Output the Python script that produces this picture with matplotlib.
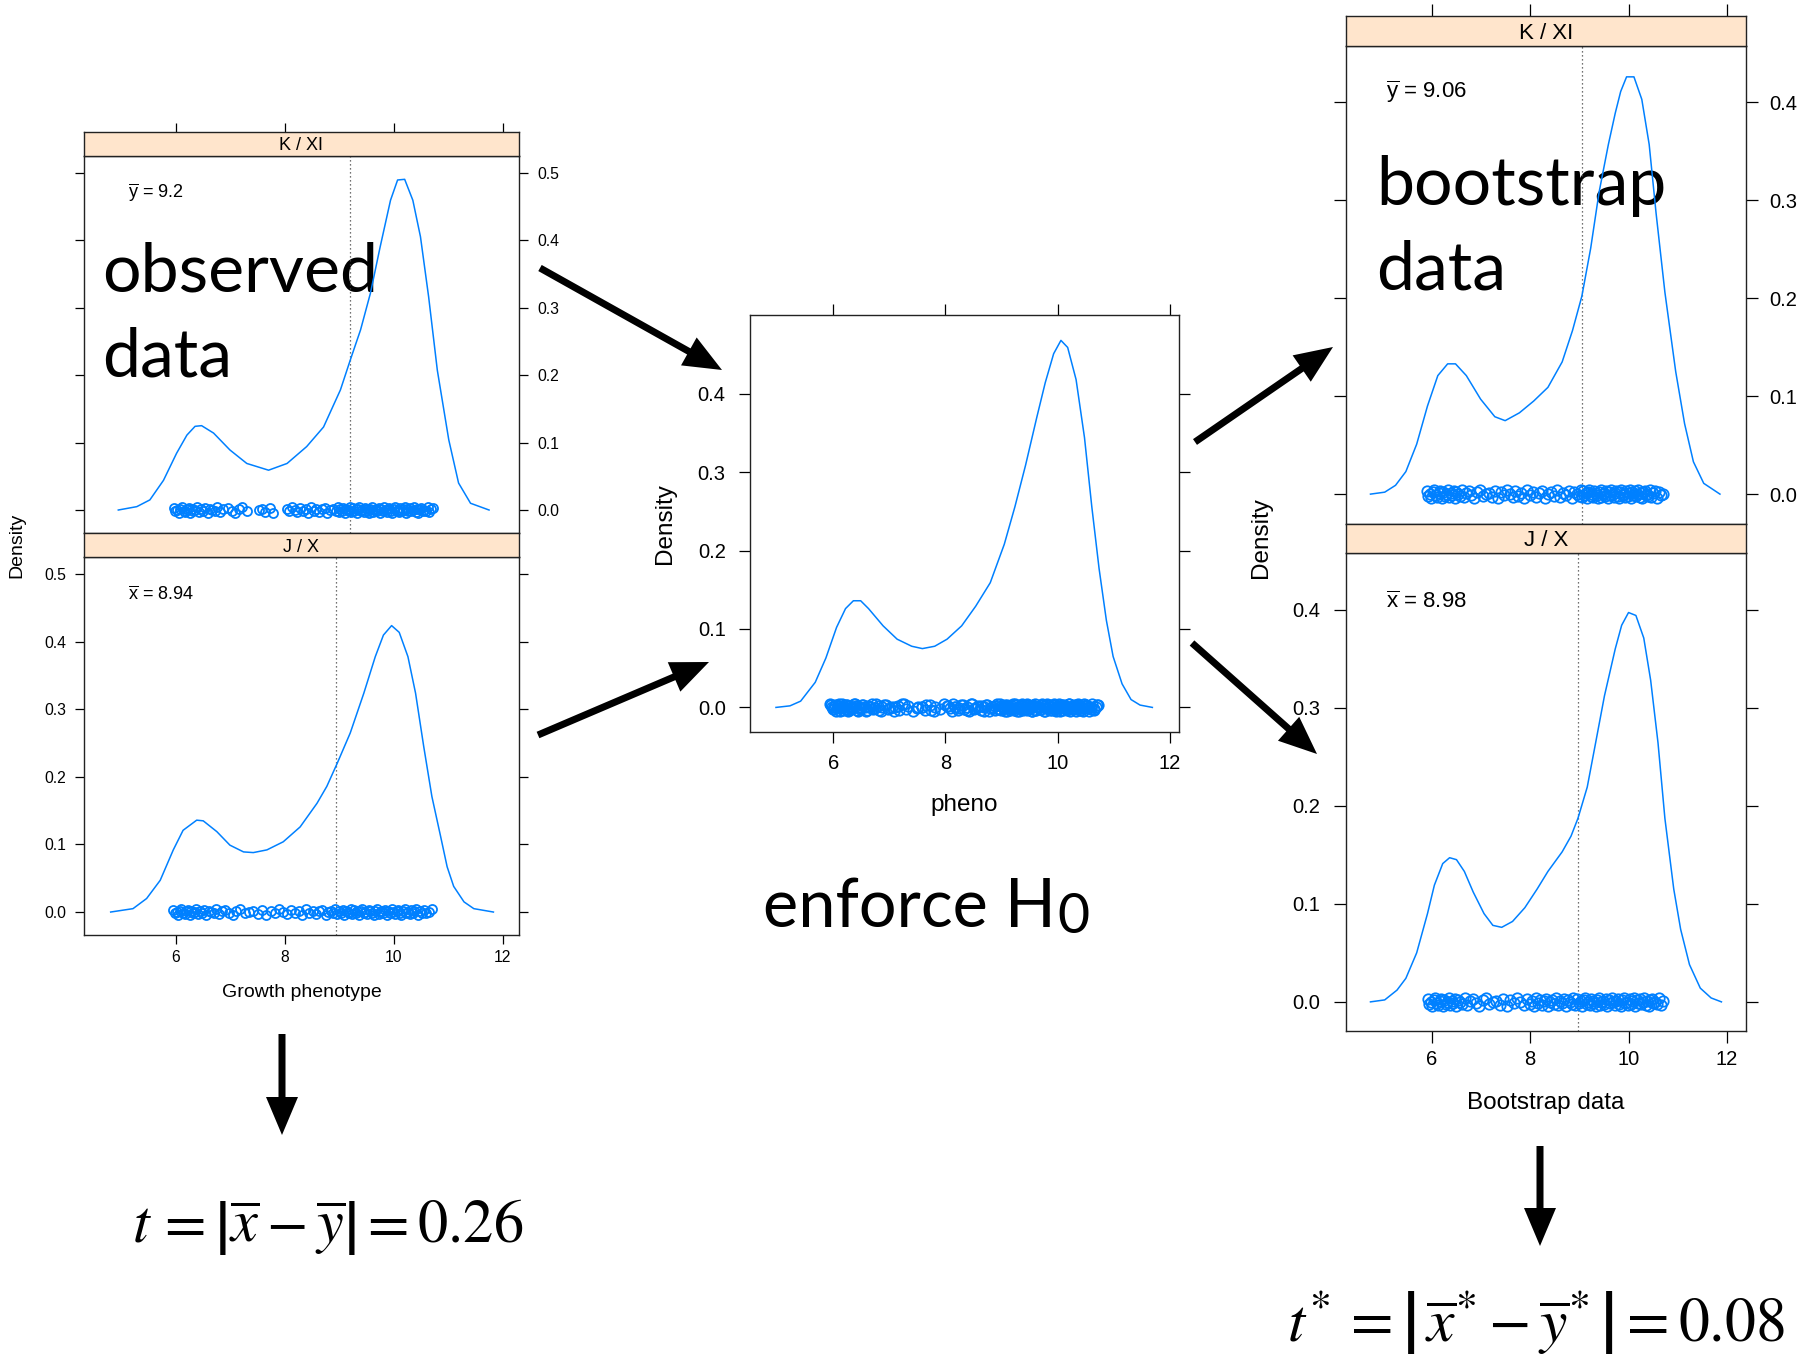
import matplotlib
matplotlib.use("Agg")
import matplotlib.pyplot as plt

W, H = 1806, 1364
plt.rcParams['font.family'] = ['Liberation Sans', 'DejaVu Sans']

BLUE = '#0080ff'
PEACH = '#ffe5cc'

# kernel density curves for each panel (x, density)
obs_k_x = [4.94, 5.28, 5.52, 5.77, 6.01, 6.20, 6.35, 6.47, 6.69, 6.99, 7.30, 7.70, 8.04, 8.40, 8.71, 9.02,
           9.20, 9.39, 9.57, 9.75, 9.94, 10.07, 10.20, 10.35, 10.49, 10.64, 10.80, 11.01, 11.19, 11.41, 11.75]
obs_k_d = [0.0, 0.005, 0.015, 0.044, 0.084, 0.111, 0.124, 0.125, 0.114, 0.089, 0.069, 0.059, 0.069, 0.094, 0.123, 0.178,
           0.222, 0.267, 0.321, 0.390, 0.459, 0.489, 0.490, 0.459, 0.405, 0.316, 0.207, 0.104, 0.040, 0.010, 0.0]

obs_j_x = [4.80, 5.21, 5.46, 5.71, 5.95, 6.13, 6.38, 6.50, 6.75, 6.99, 7.24, 7.42, 7.67, 7.97, 8.28, 8.59, 8.77,
           8.96, 9.20, 9.45, 9.66, 9.81, 9.96, 10.10, 10.26, 10.40, 10.55, 10.70, 10.86, 10.98, 11.10, 11.29, 11.47, 11.83]
obs_j_d = [0.0, 0.005, 0.020, 0.047, 0.092, 0.121, 0.136, 0.135, 0.119, 0.099, 0.089, 0.088, 0.092, 0.104, 0.126, 0.161, 0.186,
           0.220, 0.265, 0.324, 0.378, 0.410, 0.424, 0.414, 0.378, 0.324, 0.245, 0.171, 0.112, 0.067, 0.038, 0.015, 0.005, 0.0]

pheno_x = [4.98, 5.23, 5.42, 5.68, 5.87, 6.06, 6.22, 6.36, 6.49, 6.63, 6.89, 7.14, 7.40, 7.59, 7.81, 8.03, 8.29, 8.54, 8.80,
           9.05, 9.24, 9.43, 9.63, 9.78, 9.93, 10.06, 10.18, 10.33, 10.48, 10.61, 10.74, 10.87, 10.99, 11.15, 11.31, 11.47, 11.69]
pheno_d = [0.0, 0.002, 0.008, 0.032, 0.063, 0.102, 0.126, 0.136, 0.136, 0.126, 0.104, 0.087, 0.078, 0.075, 0.078, 0.087, 0.104, 0.129, 0.159,
           0.208, 0.256, 0.309, 0.370, 0.414, 0.451, 0.468, 0.459, 0.418, 0.344, 0.256, 0.177, 0.111, 0.065, 0.030, 0.010, 0.003, 0.0]

boot_k_x = [4.75, 5.04, 5.26, 5.47, 5.69, 5.91, 6.12, 6.32, 6.48, 6.70, 6.99, 7.28, 7.49, 7.78, 8.07, 8.36, 8.65, 8.86,
            9.05, 9.23, 9.40, 9.59, 9.73, 9.84, 9.96, 10.11, 10.27, 10.42, 10.56, 10.74, 10.96, 11.14, 11.32, 11.53, 11.86]
boot_k_d = [0.0, 0.002, 0.009, 0.023, 0.051, 0.090, 0.121, 0.133, 0.133, 0.121, 0.097, 0.079, 0.075, 0.083, 0.095, 0.109, 0.135, 0.167,
            0.202, 0.251, 0.308, 0.357, 0.389, 0.411, 0.426, 0.426, 0.403, 0.357, 0.287, 0.206, 0.125, 0.072, 0.033, 0.011, 0.0]

boot_j_x = [4.75, 5.04, 5.29, 5.47, 5.69, 5.91, 6.05, 6.22, 6.36, 6.50, 6.66, 6.84, 7.06, 7.24, 7.42, 7.64, 7.89, 8.14, 8.36, 8.65,
            8.83, 8.97, 9.16, 9.33, 9.51, 9.73, 9.86, 10.00, 10.15, 10.31, 10.45, 10.60, 10.74, 10.92, 11.06, 11.24, 11.46, 11.68, 11.89]
boot_j_d = [0.0, 0.002, 0.012, 0.024, 0.050, 0.090, 0.119, 0.141, 0.147, 0.145, 0.133, 0.112, 0.090, 0.078, 0.076, 0.082, 0.096, 0.115, 0.133, 0.153,
            0.169, 0.187, 0.219, 0.264, 0.312, 0.360, 0.384, 0.397, 0.394, 0.371, 0.328, 0.264, 0.187, 0.115, 0.074, 0.038, 0.014, 0.004, 0.0]

# raw observations drawn as the rug of circles
obs_k = [5.96, 5.99, 6.02, 6.05, 6.08, 6.11, 6.14, 6.17, 6.2, 6.23, 6.26, 6.29, 6.32, 6.35, 6.38, 6.42, 6.46, 6.5, 6.54,
         6.58, 6.62, 6.66, 6.71, 6.76, 6.81, 6.87,
         6.95, 7.02, 7.08, 7.15, 7.22, 7.3, 7.52, 7.58, 7.64, 7.72, 7.79,
         8.03, 8.08, 8.13, 8.18, 8.23, 8.28, 8.33, 8.38, 8.43, 8.48, 8.53, 8.58, 8.63, 8.68, 8.73, 8.78, 8.83, 8.88, 8.93, 8.97,
         9.0, 9.02, 9.05, 9.07, 9.1, 9.12, 9.15, 9.17, 9.2, 9.22, 9.25, 9.27, 9.3, 9.32, 9.35, 9.37, 9.4, 9.42, 9.45, 9.47,
         9.5, 9.52, 9.55, 9.57, 9.6, 9.62, 9.65, 9.67, 9.7, 9.72, 9.75, 9.77, 9.8, 9.82, 9.85, 9.87, 9.9, 9.92, 9.95, 9.97,
         10.0, 10.02, 10.05, 10.07, 10.1, 10.12, 10.15, 10.17, 10.2, 10.22, 10.25, 10.27, 10.3, 10.32, 10.35, 10.37, 10.4,
         10.42, 10.45, 10.47, 10.5, 10.53, 10.56, 10.59, 10.62, 10.65, 10.69, 10.72]
obs_j = [5.95, 5.98, 6.01, 6.04, 6.07, 6.1, 6.13, 6.16, 6.19, 6.22, 6.25, 6.28, 6.31, 6.34, 6.37, 6.4, 6.44, 6.48, 6.52,
         6.56, 6.6, 6.64, 6.69, 6.74, 6.79, 6.85, 6.9,
         6.97, 7.04, 7.11, 7.18, 7.26, 7.34, 7.42, 7.5, 7.58, 7.66, 7.74, 7.82, 7.9, 7.97, 8.04, 8.11, 8.18, 8.25, 8.32,
         8.39, 8.45, 8.51, 8.57, 8.63, 8.69, 8.75,
         8.8, 8.84, 8.88, 8.92, 8.96, 9.0, 9.03, 9.06, 9.09, 9.12, 9.15, 9.18, 9.21, 9.24, 9.27, 9.3, 9.33, 9.36, 9.39, 9.42,
         9.45, 9.48, 9.51, 9.54, 9.57, 9.6, 9.63, 9.66, 9.69, 9.72, 9.75, 9.78, 9.81, 9.84, 9.87, 9.9, 9.93, 9.96, 9.99,
         10.02, 10.05, 10.08, 10.11, 10.14, 10.17, 10.2, 10.23, 10.26, 10.29, 10.32, 10.35, 10.38, 10.41, 10.44, 10.48,
         10.52, 10.56, 10.6, 10.65, 10.7]
boot_k = [5.9, 5.93, 5.96, 5.99, 6.02, 6.05, 6.08, 6.11, 6.14, 6.17, 6.2, 6.23, 6.26, 6.29, 6.32, 6.35, 6.38, 6.41, 6.44,
          6.47, 6.5, 6.54, 6.58, 6.62, 6.66, 6.7, 6.75, 6.8, 6.86,
          6.92, 6.98, 7.04, 7.1, 7.16, 7.22, 7.28, 7.34, 7.4, 7.46, 7.52, 7.58, 7.64, 7.7, 7.76, 7.82, 7.88, 7.94, 8.0,
          8.06, 8.12, 8.18, 8.24, 8.3, 8.36, 8.42, 8.48, 8.54, 8.6, 8.66, 8.72, 8.78, 8.84, 8.9, 8.95,
          9.0, 9.03, 9.05, 9.08, 9.1, 9.13, 9.15, 9.18, 9.2, 9.23, 9.25, 9.28, 9.3, 9.33, 9.35, 9.38, 9.4, 9.43, 9.45, 9.48,
          9.5, 9.53, 9.55, 9.58, 9.6, 9.63, 9.65, 9.68, 9.7, 9.73, 9.75, 9.78, 9.8, 9.83, 9.85, 9.88, 9.9, 9.93, 9.95, 9.98,
          10.0, 10.03, 10.05, 10.08, 10.1, 10.13, 10.15, 10.18, 10.2, 10.23, 10.25, 10.28, 10.3, 10.33, 10.35, 10.38, 10.4,
          10.43, 10.46, 10.5, 10.54, 10.58, 10.62, 10.66, 10.7]
boot_j = [5.92, 5.95, 5.98, 6.01, 6.04, 6.07, 6.1, 6.13, 6.16, 6.19, 6.22, 6.25, 6.28, 6.31, 6.34, 6.37, 6.4, 6.43, 6.46,
          6.5, 6.54, 6.58, 6.62, 6.67, 6.72, 6.78, 6.84, 6.9,
          6.96, 7.03, 7.1, 7.17, 7.24, 7.31, 7.38, 7.45, 7.52, 7.59, 7.66, 7.73, 7.8, 7.87, 7.94,
          8.0, 8.04, 8.08, 8.12, 8.16, 8.2, 8.24, 8.28, 8.32, 8.36, 8.4, 8.44, 8.48, 8.52, 8.56, 8.6, 8.64, 8.68, 8.72, 8.76,
          8.8, 8.84, 8.88, 8.92, 8.96,
          9.0, 9.03, 9.06, 9.09, 9.12, 9.15, 9.18, 9.21, 9.24, 9.27, 9.3, 9.33, 9.36, 9.39, 9.42, 9.45, 9.48, 9.51, 9.54,
          9.57, 9.6, 9.63, 9.66, 9.69, 9.72, 9.75, 9.78, 9.81, 9.84, 9.87, 9.9, 9.93, 9.96, 9.99, 10.02, 10.05, 10.08,
          10.11, 10.14, 10.17, 10.2, 10.23, 10.26, 10.29, 10.32, 10.35, 10.38, 10.41, 10.44, 10.47, 10.5, 10.54, 10.58,
          10.62, 10.66, 10.71]

# vertical jitter of the rug points
rug_jitter = [0.003, -0.002, 0.0, -0.004, 0.002, 0.004, -0.001, -0.003, 0.001, 0.003,
              -0.004, 0.002, -0.002, 0.0, 0.004, -0.003, 0.001, -0.001, 0.003, -0.004,
              0.002, 0.0, -0.002, 0.004, -0.003, 0.001, 0.003, -0.001, -0.004, 0.002,
              0.004, -0.002, 0.0, 0.001, -0.003, 0.003, -0.004, 0.002, -0.001, 0.004,
              0.0, -0.003, 0.003, -0.002, 0.001, -0.004, 0.004, -0.001, 0.002, -0.003,
              0.001, 0.003, -0.004, 0.0, 0.002, -0.002, 0.004, -0.003, 0.001, -0.001,
              0.003, -0.004, 0.002, 0.0, -0.002, 0.004, -0.003, 0.003, -0.001, 0.001,
              -0.004, 0.002, 0.004, -0.002, 0.0, -0.003, 0.003, 0.001, -0.001, -0.004,
              0.002, 0.004, -0.003, 0.0, 0.001, -0.002, 0.003, -0.004, 0.002, -0.001,
              0.004, 0.0, -0.003, 0.001, 0.003, -0.002, -0.004, 0.002, 0.004, -0.001,
              0.0, -0.003, 0.003, -0.002, 0.001, 0.004, -0.004, 0.002, -0.001, 0.003,
              -0.002, 0.0, 0.004, -0.003, 0.001, -0.004, 0.002, 0.003, -0.001, 0.0,
              -0.002, 0.004, -0.003, 0.001, 0.003, -0.004, 0.002, -0.001, 0.0, 0.003]

# group means (dotted lines) and test statistics
mean_obs_y, mean_obs_x = 9.2, 8.94
mean_boot_y, mean_boot_x = 9.06, 8.98
t_obs, t_boot = 0.26, 0.08

x_ticks = [6, 8, 10, 12]

fig = plt.figure(figsize=(W / 100, H / 100), dpi=100)


def fx(x):
    return x / W


def fy(y):
    return 1 - y / H


def add_box(x0, y0, x1, y1):
    return fig.add_axes([fx(x0), fy(y1), (x1 - x0) / W, (y1 - y0) / H])


def spines(ax):
    for s in ax.spines.values():
        s.set_linewidth(1.0)
        s.set_color('#222222')


def density_panel(rect, xlim, ylim, yticks, cx, cd, rug, jit, ms, fs, mean=None):
    ax = add_box(*rect)
    ax.plot(cx, cd, color=BLUE, lw=1.1, zorder=3)
    ax.plot(rug, jit, 'o', ls='none', mfc='none', mec=BLUE, mew=1.3, ms=ms, zorder=3)
    if mean is not None:
        ax.axvline(mean, color='#444444', lw=0.9, ls=(0, (1, 2.2)), zorder=2)
    ax.set_xlim(xlim)
    ax.set_ylim(ylim)
    ax.set_xticks(x_ticks)
    ax.set_xticklabels([str(v) for v in x_ticks], fontsize=fs)
    ax.set_yticks(yticks)
    ax.set_yticklabels(['%.1f' % v for v in yticks], fontsize=fs)
    spines(ax)
    return ax


def strip(rect, xlim, label, fs, top_ticks=False, tick_len=6.5):
    ax = add_box(*rect)
    ax.set_facecolor(PEACH)
    ax.set_xlim(xlim)
    ax.set_yticks([])
    ax.text(0.5, 0.5, label, transform=ax.transAxes, ha='center', va='center_baseline', fontsize=fs)
    if top_ticks:
        ax.set_xticks(x_ticks)
        ax.tick_params(axis='x', bottom=False, labelbottom=False, top=True, labeltop=False,
                       length=tick_len, width=0.9, direction='out')
    else:
        ax.set_xticks([])
    spines(ax)
    return ax


# ---- observed data (left) ----
left_xlim = (4.31, 12.30)
left_yt = [0.0, 0.1, 0.2, 0.3, 0.4, 0.5]
ax_lk = density_panel((84, 155.7, 519, 533.3), left_xlim, (-0.0345, 0.525), left_yt,
                      obs_k_x, obs_k_d, obs_k, rug_jitter[:len(obs_k)], 6.5, 11.3, mean_obs_y)
ax_lk.tick_params(left=True, right=True, labelleft=False, labelright=True, bottom=False, labelbottom=False,
                  length=6.5, width=0.9, pad=6.7)
ax_lj = density_panel((84, 556.7, 519, 935), left_xlim, (-0.034, 0.526), left_yt,
                      obs_j_x, obs_j_d, obs_j, rug_jitter[:len(obs_j)], 6.5, 11.3, mean_obs_x)
ax_lj.tick_params(axis='y', left=True, right=True, labelleft=True, labelright=False, length=6.5, width=0.9, pad=6.5)
ax_lj.tick_params(axis='x', bottom=True, top=False, length=6.5, width=0.9, pad=4.3)
strip((84, 132.3, 519, 155.7), left_xlim, 'K / XI', 13, top_ticks=True, tick_len=6.5)
strip((84, 533.3, 519, 556.7), left_xlim, 'J / X', 13)

fig.text(fx(128), fy(191.7), r'$\overline{\mathregular{y}}$ = %s' % mean_obs_y, fontsize=13, va='center')
fig.text(fx(128), fy(595), r'$\overline{\mathregular{x}}$ = %s' % mean_obs_x, fontsize=13, va='center')
fig.text(fx(301.5), fy(992.7), 'Growth phenotype', fontsize=14, ha='center', va='center')
fig.text(fx(17), fy(545), 'Density', fontsize=14, rotation=90, ha='center', va='center')
for txt, yb in (('observed', 291.7), ('data', 376.7)):
    ax_lk.text(fx(101.7), fy(yb), txt, transform=fig.transFigure, fontsize=49, family='Lato',
               va='baseline', zorder=1, clip_on=False)

# ---- pooled data under H0 (centre) ----
ax_c = density_panel((749.6, 314.5, 1179.3, 732.2), (4.51, 12.17), (-0.0316, 0.501), [0.0, 0.1, 0.2, 0.3, 0.4],
                     pheno_x, pheno_d, obs_k + obs_j,
                     rug_jitter[:len(obs_k)] + rug_jitter[:len(obs_j)][::-1], 7.5, 14.5)
ax_c.tick_params(axis='y', left=True, right=True, length=8.2, width=0.9, pad=9)
ax_c.tick_params(axis='x', bottom=True, top=True, length=8.2, width=0.9, pad=7.5)
fig.text(fx(964.5), fy(804.5), 'pheno', fontsize=17.5, ha='center', va='center')
fig.text(fx(665), fy(523.8), 'Density', fontsize=17.5, rotation=90, ha='center', va='center')

# ---- bootstrap data (right) ----
right_xlim = (4.246, 12.40)
right_yt = [0.0, 0.1, 0.2, 0.3, 0.4]
ax_rk = density_panel((1345.7, 45.8, 1746.5, 523.8), right_xlim, (-0.0303, 0.4577), right_yt,
                      boot_k_x, boot_k_d, boot_k, rug_jitter[:len(boot_k)], 7.5, 14.5, mean_boot_y)
ax_rk.tick_params(left=True, right=True, labelleft=False, labelright=True, bottom=False, labelbottom=False,
                  length=8.6, width=0.9, pad=7.6)
ax_rj = density_panel((1345.7, 552.7, 1746.5, 1030.8), right_xlim, (-0.0295, 0.458), right_yt,
                      boot_j_x, boot_j_d, boot_j, rug_jitter[:len(boot_j)], 7.5, 14.5, mean_boot_x)
ax_rj.tick_params(axis='y', left=True, right=True, labelleft=True, labelright=False, length=8.6, width=0.9, pad=9.5)
ax_rj.tick_params(axis='x', bottom=True, top=False, length=8.6, width=0.9, pad=5.3)
strip((1345.7, 16.2, 1746.5, 45.8), right_xlim, 'K / XI', 16, top_ticks=True, tick_len=8.6)
strip((1345.7, 523.8, 1746.5, 552.7), right_xlim, 'J / X', 16)

fig.text(fx(1385.8), fy(92.3), r'$\overline{\mathregular{y}}$ = %s' % mean_boot_y, fontsize=16, va='center')
fig.text(fx(1385.8), fy(602.1), r'$\overline{\mathregular{x}}$ = %s' % mean_boot_x, fontsize=16, va='center')
fig.text(fx(1546.1), fy(1103.1), 'Bootstrap data', fontsize=17.5, ha='center', va='center')
fig.text(fx(1261), fy(538), 'Density', fontsize=17.5, rotation=90, ha='center', va='center')
for txt, yb in (('bootstrap', 204.9), ('data', 289.3)):
    ax_rk.text(fx(1375.9), fy(yb), txt, transform=fig.transFigure, fontsize=49, family='Lato',
               va='baseline', zorder=1, clip_on=False)

# ---- annotations ----
t_h0 = fig.text(fx(762.7), fy(926.7), 'enforce H', fontsize=48, family='Lato', va='baseline')
fig.canvas.draw()
bb = t_h0.get_window_extent(fig.canvas.get_renderer())
fig.text((bb.x1 + 2) / W, fy(933), '0', fontsize=40, family='Lato', va='baseline')

fig.text(fx(131.7), fy(1241.7), r'$t\,=\left|\overline{x}-\overline{y}\right|=%.2f$' % t_obs,
         fontsize=43.5, math_fontfamily='stix', va='baseline')
fig.text(fx(1287), fy(1341.7), r'$t^{*}\,=\left|\,\overline{x}^{*}-\overline{y}^{*}\,\right|=%.2f$' % t_boot,
         fontsize=44.5, math_fontfamily='stix', va='baseline')

ov = fig.add_axes([0, 0, 1, 1])
ov.set_xlim(0, W)
ov.set_ylim(H, 0)
ov.axis('off')
arrows = [(540, 268, 722, 370), (538, 735, 709, 662), (1195, 442, 1333, 347), (1192, 643, 1317, 754),
          (282, 1034, 282, 1135), (1540, 1146, 1540, 1246)]
for x0, y0, x1, y1 in arrows:
    ov.arrow(x0, y0, x1 - x0, y1 - y0, width=7, head_width=32, head_length=38,
             length_includes_head=True, color='black', lw=0)

fig.savefig('out.png', dpi=100)
